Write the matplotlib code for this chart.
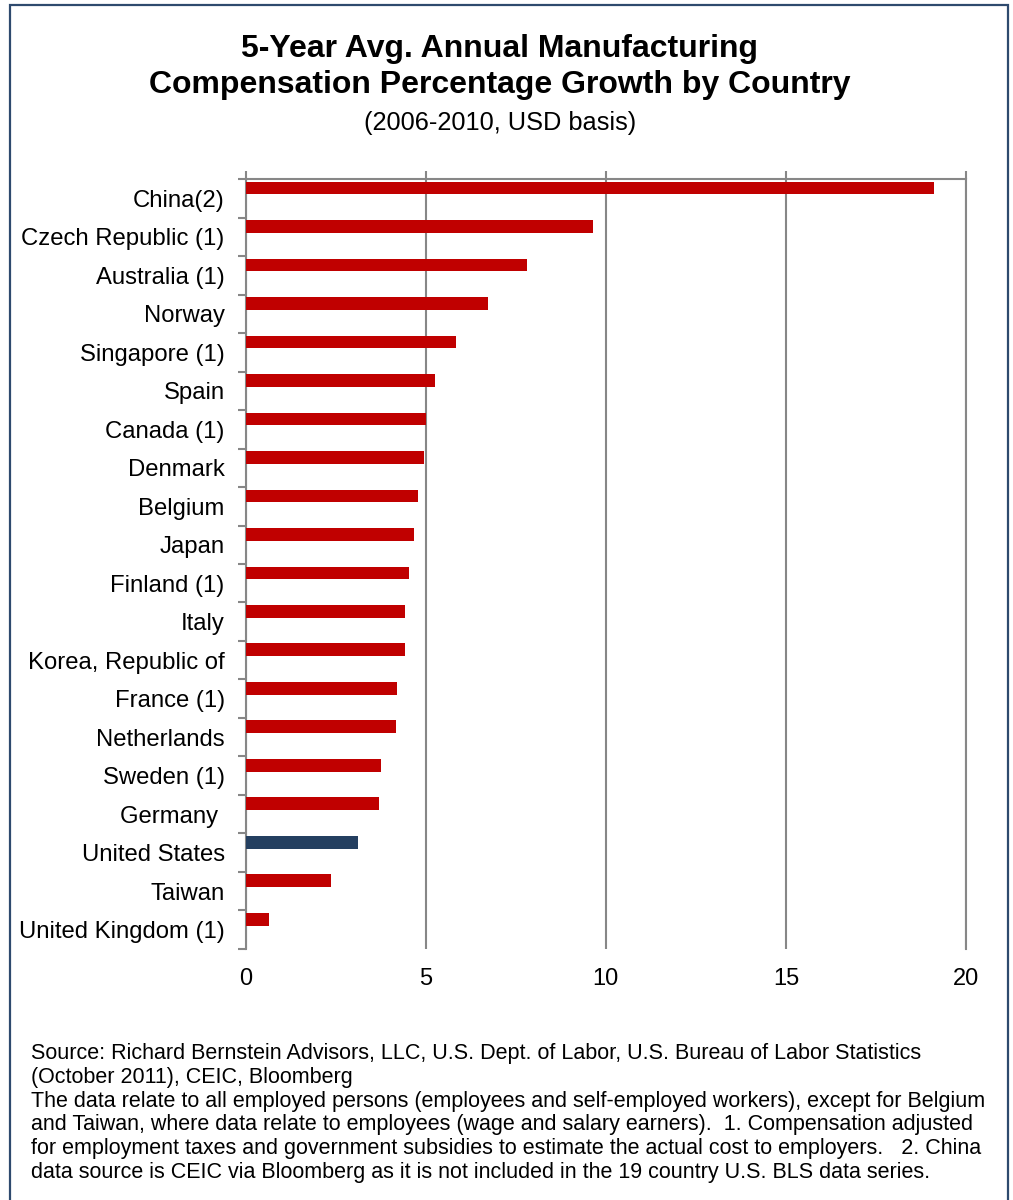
import matplotlib
matplotlib.use("Agg")
import matplotlib.pyplot as plt
import numpy as np
from matplotlib.patches import Rectangle

plt.rcParams['font.family'] = ['Liberation Sans', 'DejaVu Sans']

countries = ["China(2)", "Czech Republic (1)", "Australia (1)", "Norway", "Singapore (1)",
             "Spain", "Canada (1)", "Denmark", "Belgium", "Japan", "Finland (1)", "Italy",
             "Korea, Republic of", "France (1)", "Netherlands", "Sweden (1)", "Germany ",
             "United States", "Taiwan", "United Kingdom (1)"]
growth = [19.1, 9.65, 7.82, 6.72, 5.83, 5.25, 5.0, 4.94, 4.79, 4.69, 4.53, 4.44,
          4.43, 4.2, 4.17, 3.75, 3.7, 3.13, 2.37, 0.64]
highlight = "United States"
xticks = [0, 5, 10, 15, 20]

title = "5-Year Avg. Annual Manufacturing\nCompensation Percentage Growth by Country"
subtitle = "(2006-2010, USD basis)"
footnote = ("Source: Richard Bernstein Advisors, LLC, U.S. Dept. of Labor, U.S. Bureau of Labor Statistics\n"
            "(October 2011), CEIC, Bloomberg\n"
            "The data relate to all employed persons (employees and self-employed workers), except for Belgium\n"
            "and Taiwan, where data relate to employees (wage and salary earners).  1. Compensation adjusted\n"
            "for employment taxes and government subsidies to estimate the actual cost to employers.   2. China\n"
            "data source is CEIC via Bloomberg as it is not included in the 19 country U.S. BLS data series.")

RED = "#C00000"
NAVY = "#243F60"
GRID = "#878787"

fig = plt.figure(figsize=(10.13, 12), dpi=100)
ax = fig.add_axes([0.2424, 0.2092, 0.9536 - 0.2424, 0.8508 - 0.2092])

n = len(countries)
pos = np.arange(n)
colors = [NAVY if c == highlight else RED for c in countries]
ax.barh(pos - 0.27, growth, height=0.33, color=colors, zorder=3)

ax.set_xlim(0, 20)
ax.set_ylim(n - 0.5, -0.5)
ax.set_xticks(xticks)
ax.set_xticklabels([str(t) for t in xticks])
ax.set_yticks(pos)
ax.set_yticklabels(countries)
ax.set_yticks(np.arange(n + 1) - 0.5, minor=True)

ax.spines['bottom'].set_visible(False)
for s in ['left', 'top', 'right']:
    ax.spines[s].set_color(GRID)
    ax.spines[s].set_linewidth(1.5)

ax.xaxis.grid(True, color=GRID, linewidth=1.5, zorder=0)
ax.set_axisbelow(True)

ax.tick_params(axis='x', which='major', top=True, bottom=False, labeltop=False,
               labelbottom=True, length=6, width=1.5, color=GRID, direction='out',
               labelsize=17, pad=8)
ax.tick_params(axis='y', which='major', length=0, labelsize=17.2, pad=15)
ax.tick_params(axis='y', which='minor', length=6, width=1.5, color=GRID, direction='out')

fig.text(0.4935, 0.972, title, ha='center', va='top', fontsize=23, fontweight='bold',
         linespacing=1.29)
fig.text(0.4935, 0.8975, subtitle, ha='center', va='center', fontsize=18.3)

fig.text(0.031, 0.131, footnote, ha='left', va='top', fontsize=15.5, linespacing=1.18)

fig.patches.append(Rectangle((10 / 1013, -0.01), (1008 - 10) / 1013, 1.01 - 5 / 1200,
                             transform=fig.transFigure, fill=False, edgecolor="#2E4A6E",
                             linewidth=1.6))

fig.savefig("out.png", dpi=100)
